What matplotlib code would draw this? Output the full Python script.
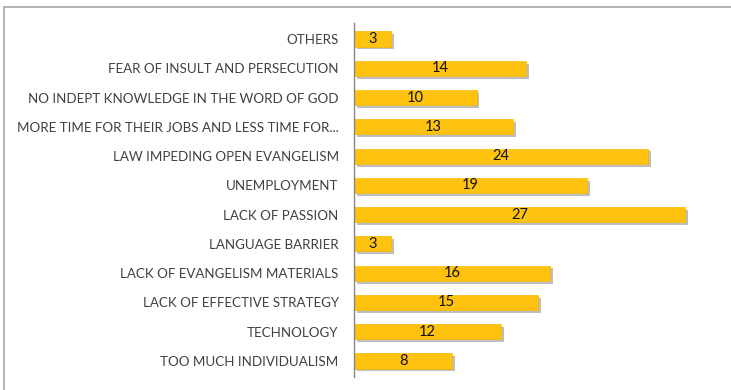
import matplotlib.pyplot as plt
import matplotlib.patheffects as pe
from matplotlib.patches import Rectangle

challenges = [
    "TOO MUCH INDIVIDUALISM",
    "TECHNOLOGY",
    "LACK OF EFFECTIVE STRATEGY",
    "LACK OF EVANGELISM MATERIALS",
    "LANGUAGE BARRIER",
    "LACK OF PASSION",
    "UNEMPLOYMENT",
    "LAW IMPEDING OPEN EVANGELISM",
    "MORE TIME FOR THEIR JOBS AND LESS TIME FOR...",
    "NO INDEPT KNOWLEDGE IN THE WORD OF GOD",
    "FEAR OF INSULT AND PERSECUTION",
    "OTHERS",
]
counts = [8, 12, 15, 16, 3, 27, 19, 24, 13, 10, 14, 3]

plt.rcParams['font.family'] = ['Lato', 'DejaVu Sans']

W, H = 731, 390
fig = plt.figure(figsize=(W / 100, H / 100), dpi=100)

# thin grey chart border, cut off at right and bottom
fig.patches.append(Rectangle((4 / W, -0.05), 1.1, 1 - 6.5 / H + 0.05,
                             transform=fig.transFigure, fill=False,
                             edgecolor='#a6a6a6', linewidth=1.2))

ax = fig.add_axes([354 / W, 13 / H, 368 / W, (377 - 23) / H])

ypos = range(len(challenges))
bars = ax.barh(ypos, counts, height=0.52, color='#ffc20e',
               edgecolor='#f5b800', linewidth=0.5)
for b in bars:
    b.set_path_effects([pe.SimplePatchShadow(offset=(2, -2), shadow_rgbFace='#7f7f7f', alpha=0.5),
                        pe.Normal()])

for y, v in zip(ypos, counts):
    ax.text(v / 2, y, str(v), ha='center', va='center', fontsize=10.5, color='#111111')

ax.set_xlim(0, 30)
ax.set_ylim(-0.55, len(challenges) - 0.45)
ax.set_yticks(list(ypos))
ax.set_yticklabels(challenges, fontsize=9.6, color='#404040')
ax.tick_params(axis='y', length=0, pad=11)
ax.set_xticks([])
for s in ['top', 'right', 'bottom']:
    ax.spines[s].set_visible(False)
ax.spines['left'].set_color('#868686')
ax.spines['left'].set_linewidth(1)

fig.savefig('out.png', dpi=100)
